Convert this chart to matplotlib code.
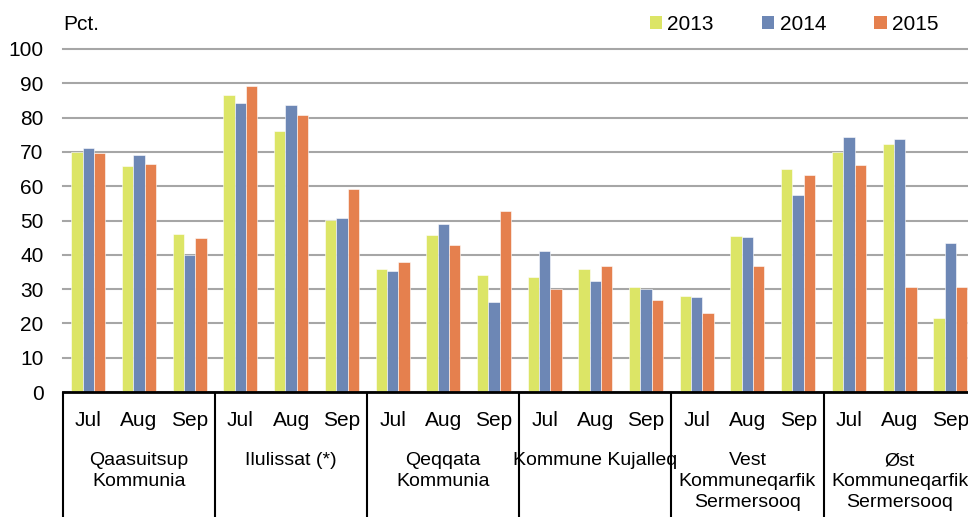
import numpy as np
import matplotlib.pyplot as plt
from matplotlib.patches import Patch

plt.rcParams['font.family'] = ['Liberation Sans', 'DejaVu Sans']

# Datos
regiones = ['Qaasuitsup\nKommunia', 'Ilulissat (*)', 'Qeqqata\nKommunia',
            'Kommune Kujalleq', 'Vest\nKommuneqarfik\nSermersooq',
            'Øst\nKommuneqarfik\nSermersooq']
meses = ['Jul', 'Aug', 'Sep']
anios = ['2013', '2014', '2015']
colores = ['#dce566', '#6d87b5', '#e5804e']

v2013 = [70.0, 65.9, 46.2, 86.6, 76.1, 50.2, 35.8, 45.7, 34.1,
         33.6, 35.9, 30.5, 28.1, 45.4, 64.9, 70.1, 72.3, 21.5]
v2014 = [71.0, 69.1, 39.9, 84.3, 83.7, 50.8, 35.2, 48.9, 26.3,
         41.0, 32.5, 30.0, 27.7, 45.1, 57.4, 74.3, 73.9, 43.4]
v2015 = [69.8, 66.4, 44.8, 89.2, 80.7, 59.2, 37.9, 42.8, 52.8,
         29.9, 36.7, 26.8, 23.0, 36.8, 63.3, 66.2, 30.6, 30.6]

fig = plt.figure(figsize=(9.68, 5.17), dpi=100)
ax = fig.add_axes([63 / 968, 125 / 517, 905 / 968, 343 / 517])

x = np.arange(len(regiones) * len(meses))
ancho = 0.223
for k, (serie, col) in enumerate(zip([v2013, v2014, v2015], colores)):
    ax.bar(x + (k - 1) * ancho, serie, ancho, color=col,
           edgecolor='white', linewidth=0.4, zorder=3)

ax.set_ylim(0, 100)
ax.set_xlim(-0.5, -0.5 + 905 / 50.7)
ax.set_yticks(np.arange(0, 101, 10))
ax.tick_params(axis='y', length=0, pad=14, labelsize=15)
ax.set_xticks([])
ax.grid(axis='y', color='#a6a6a6', linewidth=1.5, zorder=0)
for gl in ax.get_ygridlines():
    gl.set_clip_on(False)
for s in ['top', 'right', 'left']:
    ax.spines[s].set_visible(False)
ax.spines['bottom'].set_linewidth(2)
ax.spines['bottom'].set_zorder(4)

# Etiquetas de meses y regiones
trans = ax.get_xaxis_transform()
for i in x:
    ax.text(i, -0.082, meses[i % 3], transform=trans, ha='center',
            va='center', fontsize=15)
for j, reg in enumerate(regiones):
    ax.text(3 * j + 1, -0.175, reg, transform=trans, ha='center', va='top',
            fontsize=14, linespacing=1.3)
ax.vlines(np.arange(-0.5, 17, 3), -0.37, 0, transform=trans,
          color='black', linewidth=1.5, clip_on=False)

fig.text(63 / 968, 1 - 25 / 517, 'Pct.', va='center', ha='left', fontsize=15)

handles = [Patch(facecolor=c, label=a) for c, a in zip(colores, anios)]
fig.legend(handles=handles, loc='center', bbox_to_anchor=(794 / 968, 1 - 24 / 517),
           ncol=3, frameon=False, fontsize=15, handlelength=0.6,
           handleheight=0.6, handletextpad=0.25, columnspacing=2.3)

fig.savefig('out.png', dpi=100)
